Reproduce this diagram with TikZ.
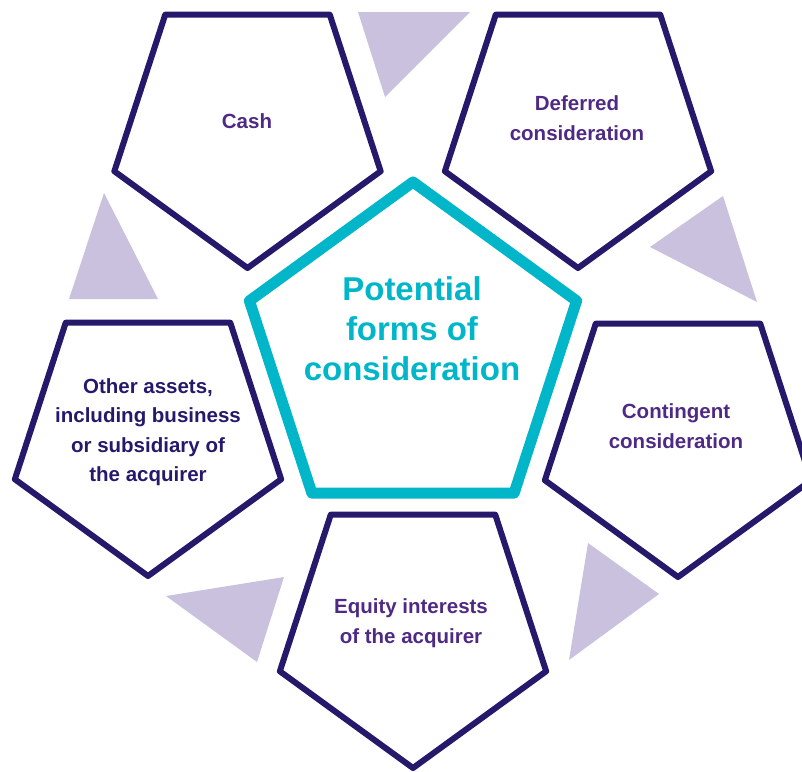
\documentclass[tikz,border=0pt]{standalone}
\usepackage{fontspec}
\setmainfont{Liberation Sans}
\usetikzlibrary{shapes.geometric}
\definecolor{navy}{RGB}{38,25,107}
\definecolor{plum}{RGB}{78,42,132}
\definecolor{cyanline}{RGB}{0,182,200}
\definecolor{lilac}{RGB}{201,193,221}
\begin{document}
\begin{tikzpicture}[x=1pt,y=-1pt]
	% size of each pentagon
	\def\outsz{280pt}
	\def\insz{344pt}
	% node style definition
	\tikzstyle{outer} = [draw=navy, line width=6pt, line join=round, regular polygon, regular polygon sides=5, shape border rotate=180, minimum size=\outsz, inner sep=0pt];
	\tikzstyle{inner} = [draw=cyanline, line width=11pt, line join=round, regular polygon, regular polygon sides=5, minimum size=\insz, inner sep=0pt];
	\tikzstyle{txt} = [text=plum, font=\bfseries\fontsize{20.5}{29.5}\selectfont, align=center];
	\tikzstyle{bigtxt} = [text=cyanline, font=\bfseries\fontsize{33}{40}\selectfont, align=center];
	\tikzstyle{tri} = [fill=lilac, draw=none];
	\useasboundingbox (0,0) rectangle (802,771);
	% arrow triangles
	\fill[tri] (358,12) -- (470,12) -- (385,97) -- cycle;
	\fill[tri] (723,196) -- (757,302) -- (650,247) -- cycle;
	\fill[tri] (588,543) -- (659,594) -- (569,660) -- cycle;
	\fill[tri] (284,577) -- (257,662) -- (166,596) -- cycle;
	\fill[tri] (104,193) -- (158,299) -- (69,299) -- cycle;
	% pentagons
	\node[inner] (centre) at (413,354) {};
	\foreach \name/\x/\y in {cash/247.5/128, deferred/578/128, contingent/678/437, equity/413/628, other/148/436} {
		\node[outer] (\name) at (\x,\y) {};
	}
	% texts
	\node[bigtxt] (centretxt) at (412,329) {Potential\\forms of\\consideration};
	\node[txt] (cashtxt) at (247,121) {Cash};
	\node[txt] (deferredtxt) at (577,118) {Deferred\\consideration};
	\node[txt] (contingenttxt) at (676,426) {Contingent\\consideration};
	\node[txt] (equitytxt) at (411,623) {Equity interests\\of the acquirer};
	\node[txt, text=navy] (othertxt) at (148,432) {Other assets,\\including business\\or subsidiary of\\the acquirer};
\end{tikzpicture}
\end{document}
